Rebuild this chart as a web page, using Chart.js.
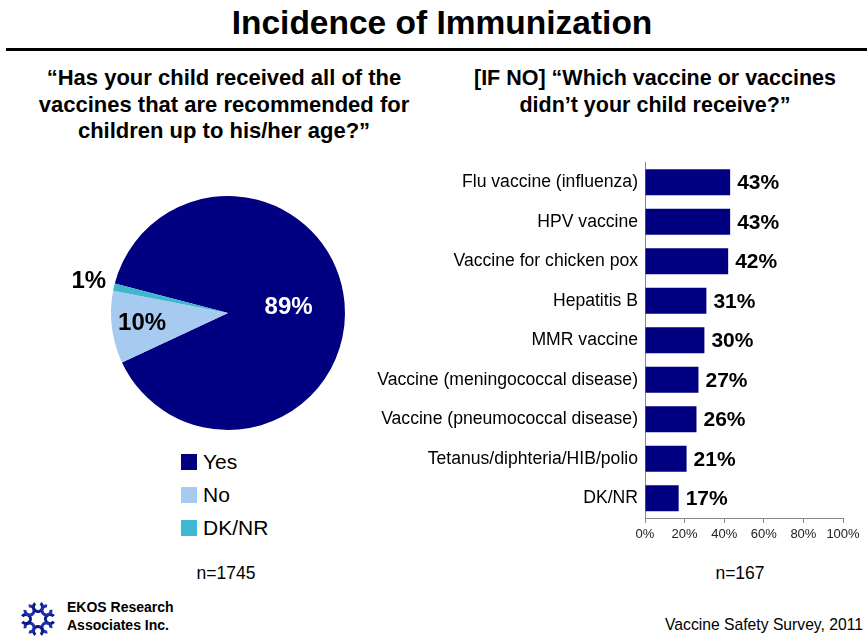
<!DOCTYPE html>
<html>
<head>
<meta charset="utf-8">
<script src="https://cdn.jsdelivr.net/npm/chart.js@4.4.0/dist/chart.umd.min.js"></script>
<style>
    html, body { margin: 0; padding: 0; background: #fff; }
    body { width: 867px; height: 637px; position: relative; overflow: hidden;
           font-family: Arial, 'Liberation Sans', sans-serif; color: #000; }
    .abs { position: absolute; }
    #title { left: 0; width: 884px; top: 4px; text-align: center; font-weight: bold; font-size: 33.5px; }
    #rule { left: 6px; right: 0; top: 48px; height: 3px; background: #000; }
    .question { font-weight: bold; font-size: 22px; line-height: 26.5px; text-align: center; }
    #qLeft  { left: 6px;  width: 436px; top: 65px; }
    #qRight { left: 420px; width: 470px; top: 65px; font-size: 21.5px; }
    #pieWrap { left: 60px; top: 150px; width: 340px; height: 290px; }
    #barWrap { left: 360px; top: 145px; width: 507px; height: 415px; }
    #legend { left: 181px; top: 445px; font-size: 21px; }
    .leg { height: 33px; display: flex; align-items: center; }
    .leg span.sw { width: 16px; height: 16px; display: inline-block; margin-right: 6px; }
    .nlab { font-size: 17.5px; }
    #nLeft  { left: 176px; width: 100px; top: 563px; text-align: center; }
    #nRight { left: 690px; width: 100px; top: 563px; text-align: center; }
    #source { right: 4px; top: 616px; font-size: 15.7px; }
    #logoText { left: 67px; top: 598px; font-size: 14px; font-weight: bold; line-height: 18px; }
    #logo { left: 19px; top: 600px; }
</style>
</head>
<body>

<div id="title" class="abs">Incidence of Immunization</div>
<div id="rule" class="abs"></div>

<div id="qLeft" class="abs question">“Has your child received all of the<br>vaccines that are recommended for<br>children up to his/her age?”</div>
<div id="qRight" class="abs question">[IF NO] “Which vaccine or vaccines<br>didn’t your child receive?”</div>

<div id="pieWrap" class="abs"><canvas id="pie"></canvas></div>
<div id="legend" class="abs"></div>
<div id="nLeft" class="abs nlab">n=1745</div>

<div id="barWrap" class="abs"><canvas id="bar"></canvas></div>
<div id="nRight" class="abs nlab">n=167</div>

<canvas id="logo" class="abs" width="38" height="38"></canvas>
<div id="logoText" class="abs">EKOS Research<br>Associates Inc.</div>
<div id="source" class="abs">Vaccine Safety Survey, 2011</div>

<script>
// ─── Data ────────────────────────────────────────────────────────────────────
const pieLabels = ['Yes', 'No', 'DK/NR'];
const pieValues = [89, 10, 1];

const vaccineLabels = [
    'Flu vaccine (influenza)',
    'HPV vaccine',
    'Vaccine for chicken pox',
    'Hepatitis B',
    'MMR vaccine',
    'Vaccine (meningococcal disease)',
    'Vaccine (pneumococcal disease)',
    'Tetanus/diphteria/HIB/polio',
    'DK/NR'
];
const vaccineValues = [43, 43, 42, 31, 30, 27, 26, 21, 17];

const xTicks = [0, 20, 40, 60, 80, 100];

// ─── Styles ──────────────────────────────────────────────────────────────────
const NAVY      = '#000080';
const pieColors = [NAVY, '#A6CAF0', '#3DB8CF'];
const FONT      = "Arial, 'Liberation Sans', sans-serif";

// ─── PIE ─────────────────────────────────────────────────────────────────────
// label placement per slice: distance factor of radius, text colour
const pieLabelStyle = [
    { r: 0.52, color: '#fff' },
    { r: 0.74, color: '#000' },
    { r: 1.22, color: '#000' }
];

const pieLabelPlugin = {
    id: 'pieLabels',
    afterDatasetsDraw(chart) {
        const ctx  = chart.ctx;
        const meta = chart.getDatasetMeta(0);
        ctx.save();
        ctx.font = 'bold 24px ' + FONT;
        ctx.textAlign = 'center';
        ctx.textBaseline = 'middle';
        meta.data.forEach((arc, i) => {
            const p   = arc.getProps(['x', 'y', 'startAngle', 'endAngle', 'outerRadius'], true);
            const mid = (p.startAngle + p.endAngle) / 2;
            const d   = p.outerRadius * pieLabelStyle[i].r;
            ctx.fillStyle = pieLabelStyle[i].color;
            ctx.fillText(pieValues[i] + '%', p.x + Math.cos(mid) * d, p.y + Math.sin(mid) * d);
        });
        ctx.restore();
    }
};

new Chart(document.getElementById('pie'), {
    type: 'pie',
    data: {
        labels: pieLabels,
        datasets: [{
            data: pieValues,
            backgroundColor: pieColors,
            borderWidth: 0
        }]
    },
    options: {
        responsive: true,
        maintainAspectRatio: false,
        animation: false,
        rotation: -75.4,
        layout: { padding: { left: 51, right: 55, top: 46, bottom: 10 } },
        plugins: { legend: { display: false }, tooltip: { enabled: false } }
    },
    plugins: [pieLabelPlugin]
});

// legend built from the same arrays
const legendEl = document.getElementById('legend');
pieLabels.forEach((lab, i) => {
    const row = document.createElement('div');
    row.className = 'leg';
    row.innerHTML = '<span class="sw" style="background:' + pieColors[i] + '"></span>' + lab;
    legendEl.appendChild(row);
});

// ─── BAR ─────────────────────────────────────────────────────────────────────
const barValuePlugin = {
    id: 'barValues',
    afterDatasetsDraw(chart) {
        const ctx  = chart.ctx;
        const meta = chart.getDatasetMeta(0);
        ctx.save();
        ctx.font = 'bold 21px ' + FONT;
        ctx.fillStyle = '#000';
        ctx.textAlign = 'left';
        ctx.textBaseline = 'middle';
        meta.data.forEach((bar, i) => {
            ctx.fillText(vaccineValues[i] + '%', bar.x + 7, bar.y + 1);
        });
        ctx.restore();
    }
};

new Chart(document.getElementById('bar'), {
    type: 'bar',
    data: {
        labels: vaccineLabels,
        datasets: [{
            data: vaccineValues,
            backgroundColor: NAVY,
            borderWidth: 0,
            categoryPercentage: 1,
            barPercentage: 0.66
        }]
    },
    options: {
        indexAxis: 'y',
        responsive: true,
        maintainAspectRatio: false,
        animation: false,
        layout: { padding: { left: 0, right: 24, top: 8, bottom: 0 } },
        plugins: { legend: { display: false }, tooltip: { enabled: false } },
        scales: {
            x: {
                min: 0,
                max: 100,
                afterBuildTicks: (scale) => { scale.ticks = xTicks.map(v => ({ value: v })); },
                afterFit: (scale) => { scale.height = 42; },
                grid: { drawOnChartArea: false, color: '#888', tickLength: 5 },
                border: { color: '#888', width: 1 },
                ticks: {
                    color: '#222',
                    font: { family: FONT, size: 13 },
                    padding: 4,
                    maxRotation: 0,
                    callback: v => v + '%'
                }
            },
            y: {
                afterFit: (scale) => { scale.width = 285; },
                grid: { drawOnChartArea: false, drawTicks: false },
                border: { color: '#888', width: 1 },
                ticks: {
                    color: '#000',
                    font: { family: FONT, size: 17.6 },
                    padding: 7
                }
            }
        }
    },
    plugins: [barValuePlugin]
});

// ─── LOGO ────────────────────────────────────────────────────────────────────
(function drawLogo() {
    const c = document.getElementById('logo').getContext('2d');
    const cx = 19, cy = 19;
    for (let k = 0; k < 8; k++) {
        const a = k * Math.PI / 4;
        const x = cx + Math.cos(a) * 12;
        const y = cy + Math.sin(a) * 12;
        c.strokeStyle = k % 2 ? '#1a2fa8' : '#0a1a8a';
        c.lineWidth = 3;
        c.beginPath();
        c.arc(x, y, 4.5, a + 0.6, a + 0.6 + Math.PI * 1.6);
        c.stroke();
    }
})();
</script>
</body>
</html>
